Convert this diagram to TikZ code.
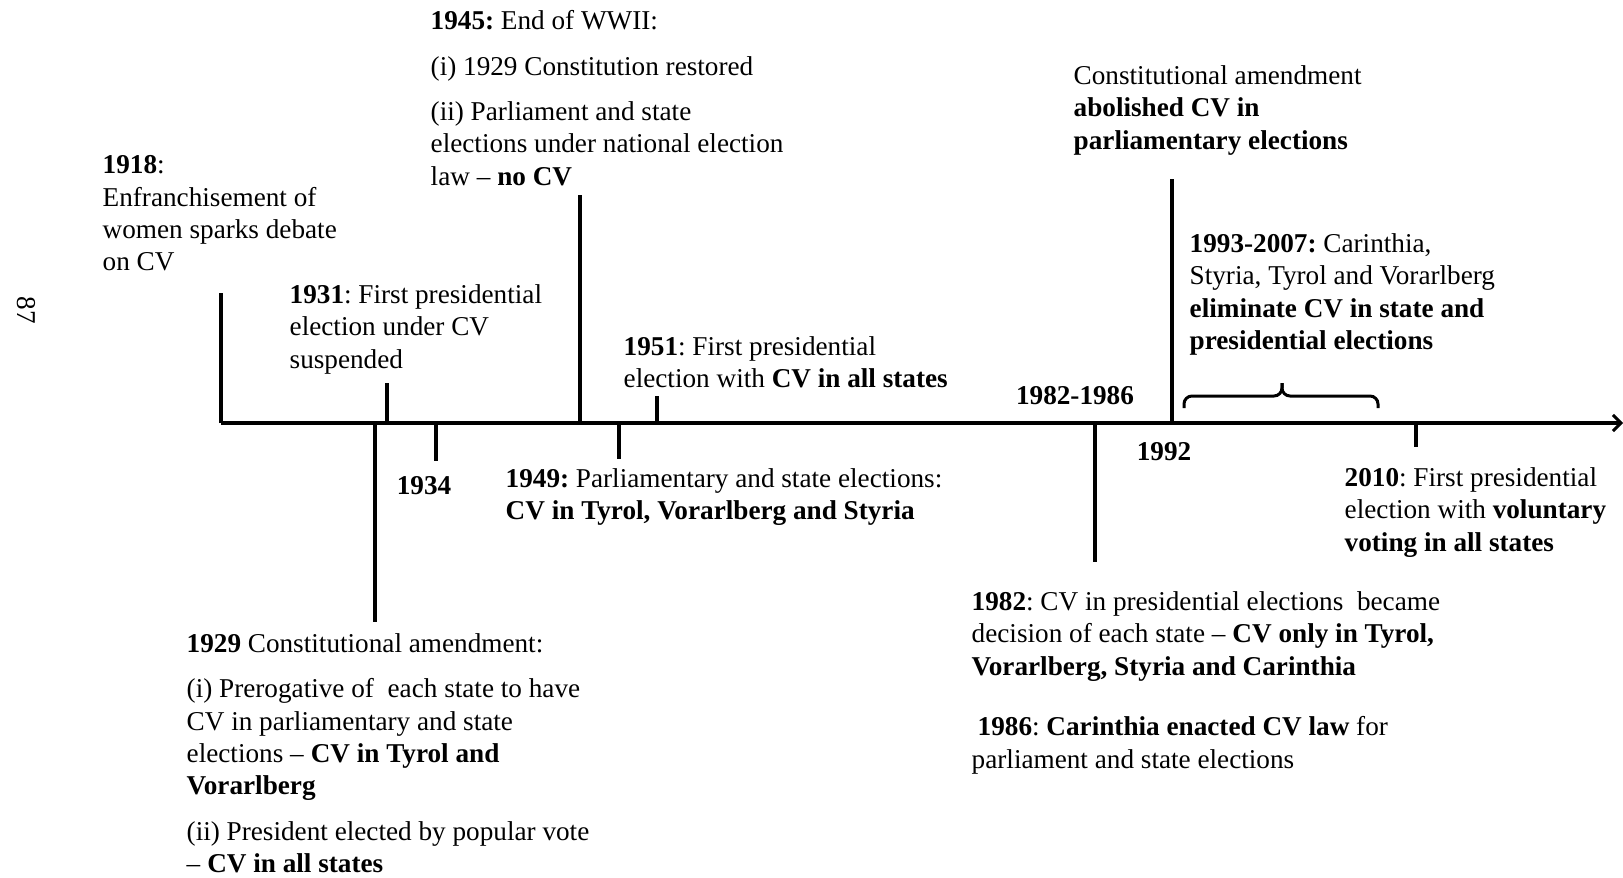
\documentclass[tikz,border=0pt]{standalone}
\usepackage{fontspec}
\setmainfont{Liberation Serif}
\usepackage{tikz}
\usetikzlibrary{arrows.meta}
\frenchspacing
\tikzset{every picture/.style={line width=1.7pt}}
\tikzset{
 event/.style={anchor=north west,inner sep=0pt,align=left},
 yearlabel/.style={inner sep=0pt,font=\fontsize{13.6}{16.15}\selectfont\bfseries},
 tickmark/.style={line width=1.7pt},
}

\begin{document}
\begin{tikzpicture}[x=.5pt,y=-.5pt,
 every node/.style={font=\fontsize{13.6}{16.15}\selectfont}]
 \useasboundingbox (0,0) rectangle (1623,878);
 \node[rotate=-90,inner sep=0pt] (page) at (26,310) {87};
 \coordinate (axL) at (221,423);
 \coordinate (axR) at (1623,423);
 \draw[line width=1.8pt,-{Straight Barb[length=4pt,width=8pt,line width=1.5pt]}] (axL)--(axR);
 \foreach \tx/\ty in {221/293,387/383,580/195,657/396,1172/179}{
  \draw[tickmark] (\tx,423)--(\tx,\ty);
 }
 \foreach \tx/\ty in {375/622,436/461,619/459,1095/562,1416/447}{
  \draw[tickmark] (\tx,423)--(\tx,\ty);
 }
 \draw[line width=1.5pt,rounded corners=4] (1184,408)--(1184,396)--(1282,396)--(1282,383);
 \draw[line width=1.5pt,rounded corners=4] (1282,383)--(1282,396)--(1378,396)--(1378,408);
 \node[event] (n1918) at (101,154) {\textbf{1918}:\\Enfranchisement of\\women sparks debate\\on CV};
 \node[event] (n1931) at (288,283) {\textbf{1931}: First presidential\\election under CV\\suspended};
 \node[event] (n1945) at (429,9) {\textbf{1945:} End of WWII:\\[6.5pt]
  (i) 1929 Constitution restored\\[6.5pt]
  (ii) Parliament and state\\elections under national election\\law -- \textbf{no CV}};
 \node[event] (n1951) at (622,335) {\textbf{1951}: First presidential\\election with \textbf{CV in all states}};
 \node[event] (nAbol) at (1072,64) {Constitutional amendment\\\textbf{abolished CV in}\\\textbf{parliamentary elections}};
 \node[event] (n1993) at (1188,232) {\textbf{1993-2007:} Carinthia,\\Styria, Tyrol and Vorarlberg\\\textbf{eliminate CV in state and}\\\textbf{presidential elections}};
 \node[yearlabel] (n1934) at (424,486) {1934};
 \node[yearlabel] (n8286) at (1075,396) {1982-1986};
 \node[yearlabel] (n1992) at (1164,452) {1992};
 \node[event] (n1949) at (504,467) {\textbf{1949:} Parliamentary and state elections:\\\textbf{CV in Tyrol, Vorarlberg and Styria}};
 \node[event] (n2010) at (1343,466) {\textbf{2010}: First presidential\\election with \textbf{voluntary}\\\textbf{voting in all states}};
 \node[event] (n1929) at (185,632) {\textbf{1929} Constitutional amendment:\\[6.5pt]
  (i) Prerogative of~ each state to have\\CV in parliamentary and state\\elections -- \textbf{CV in Tyrol and}\\\textbf{Vorarlberg}\\[6.5pt]
  (ii) President elected by popular vote\\-- \textbf{CV in all states}};
 \node[event] (n1982) at (970,590) {\textbf{1982}: CV in presidential elections~ became\\decision of each state -- \textbf{CV only in Tyrol,}\\\textbf{Vorarlberg, Styria and Carinthia}};
 \node[event] (n1986) at (970,715) {\hspace*{3pt}\textbf{1986}: \textbf{Carinthia enacted CV law} for\\parliament and state elections};
\end{tikzpicture}
\end{document}
